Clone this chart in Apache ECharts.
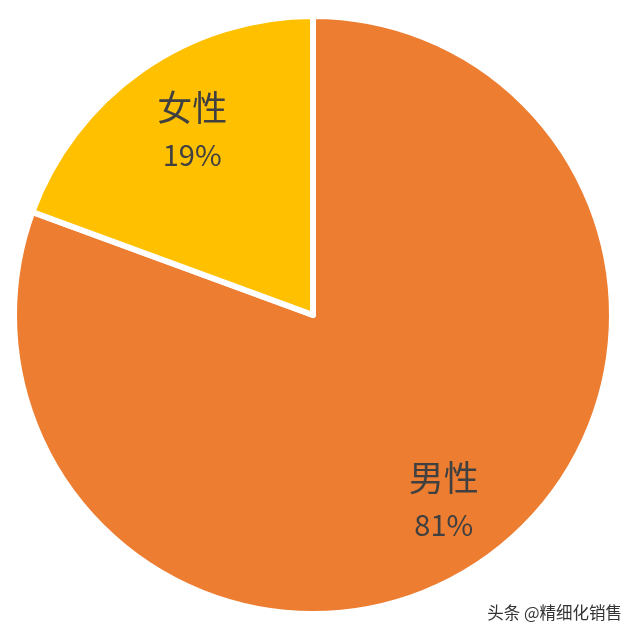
<!DOCTYPE html>
<html><head><meta charset="utf-8">
<script src="https://cdn.jsdelivr.net/npm/echarts@6/dist/echarts.min.js"></script>
<style>html,body{margin:0;padding:0;background:#fff}#c{width:640px;height:636px}</style>
</head><body><div id="c"></div>
<script>
const categories = ['男性', '女性'];
const values = [80.6, 19.4];
const colors = ['#ED7D31', '#FFC000'];
const watermark = '头条 @精细化销售';

const data = categories.map((n, i) => ({ name: n, value: values[i], itemStyle: { color: colors[i] } }));
const labelPads = [[4, 0, 0, 4], [2, 0, 0, 16]];
const chart = echarts.init(document.getElementById('c'));
chart.setOption({
  backgroundColor: '#fff',
  animation: false,
  title: {
    text: watermark, right: 13, bottom: 10,
    textStyle: { fontFamily: 'Noto Sans CJK SC', fontSize: 16.5, fontWeight: 'normal', color: '#333' }
  },
  series: [
    {
      type: 'pie', center: [313, 315], radius: [0, 299], startAngle: 90, clockwise: true,
      silent: true, label: { show: false }, labelLine: { show: false },
      itemStyle: { borderColor: '#fff', borderWidth: 6 },
      data: data
    },
    {
      type: 'pie', center: [313, 315], radius: [148, 296], startAngle: 90, clockwise: true,
      silent: true,
      itemStyle: { color: 'rgba(0,0,0,0)', borderWidth: 0 },
      label: {
        show: true, position: 'inside',
        formatter: p => '{n|' + p.name + '}\n{p|' + Math.round(p.value) + '%}',
        rich: {
          n: { fontFamily: 'Noto Sans CJK SC', fontSize: 35, lineHeight: 47, color: '#404040' },
          p: { fontFamily: 'Noto Sans CJK SC', fontSize: 29, lineHeight: 47, color: '#404040' }
        }
      },
      labelLine: { show: false },
      data: categories.map((n, i) => ({ name: n, value: values[i], label: { padding: labelPads[i] } }))
    }
  ]
});
</script></body></html>
